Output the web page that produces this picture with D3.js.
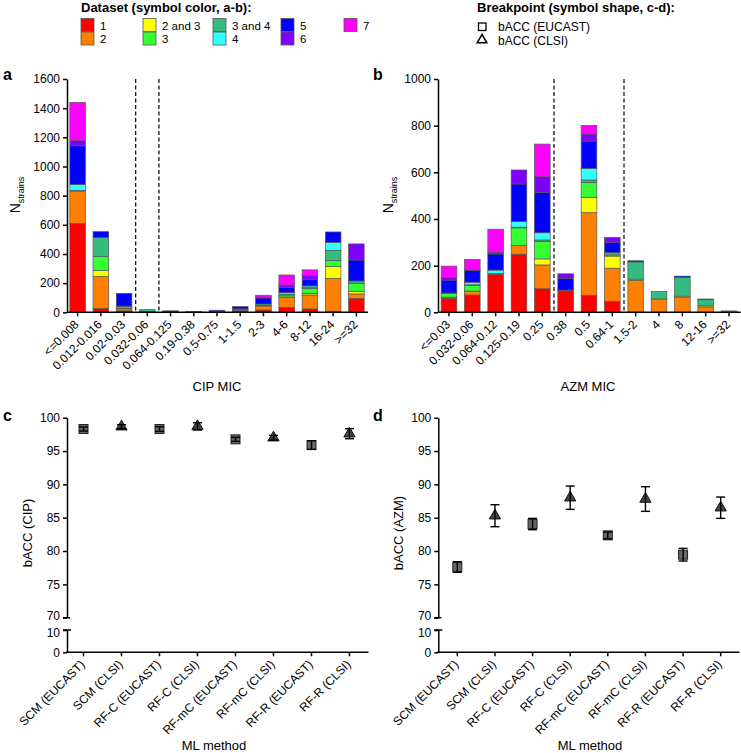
<!DOCTYPE html>
<html><head><meta charset="utf-8">
<script src="https://cdn.jsdelivr.net/npm/d3@7/dist/d3.min.js"></script>
<style>
body{margin:0;background:#fff;}
svg{font-family:"Liberation Sans",Arial,Helvetica,sans-serif;}
.axis path,.axis line{stroke:#000;stroke-width:1.5;}
.axis text{font-size:12px;fill:#000;}
</style></head><body>
<svg id="c" width="741" height="753"></svg>
<script>
// ---------- DATA ----------
const datasets = ["1","2","2 and 3","3","3 and 4","4","5","6","7"];
const cipMIC = ["<=0.008","0.012-0.016","0.02-0.03","0.032-0.06","0.064-0.125","0.19-0.38","0.5-0.75","1-1.5","2-3","4-6","8-12","16-24",">=32"];
// rows: MIC category; columns: datasets in order above
const cipCounts = [
  [610,222,0,0,3,42,265,35,263],
  [27,218,41,96,132,0,39,0,0],
  [10,14,4,10,5,0,87,0,0],
  [2,0,0,3,13,0,0,0,0],
  [3,2,0,0,0,0,5,0,0],
  [1,1,0,0,0,0,2,0,0],
  [2,2,0,0,0,0,10,0,0],
  [12,8,0,0,3,0,16,0,0],
  [16,27,0,5,9,0,41,5,14],
  [34,69,0,10,12,10,34,18,69],
  [23,96,11,32,10,9,44,27,39],
  [5,228,80,41,71,55,71,0,0],
  [94,32,16,57,16,0,144,110,0]
];
const azmMIC = ["<=0.03","0.032-0.06","0.064-0.12","0.125-0.19","0.25","0.38","0.5","0.64-1","1.5-2","4","8","12-16",">=32"];
const azmCounts = [
  [60,5,0,15,3,0,55,10,50],
  [74,17,0,25,2,11,50,3,45],
  [163,3,0,0,0,15,69,7,99],
  [249,37,0,76,3,25,160,60,0],
  [101,102,26,74,7,31,173,67,140],
  [93,2,0,0,0,0,50,20,0],
  [73,354,66,64,10,50,117,30,37],
  [47,142,52,5,10,0,44,21,0],
  [0,137,5,0,74,0,5,0,0],
  [0,57,0,0,32,0,0,0,0],
  [0,63,6,0,80,0,6,0,0],
  [0,23,5,0,27,0,2,0,0],
  [0,0,0,0,6,0,0,0,0]
];
const cipYTicks = [0,200,400,600,800,1000,1200,1400,1600];
const azmYTicks = [0,200,400,600,800,1000];
const methods = ["SCM (EUCAST)","SCM (CLSI)","RF-C (EUCAST)","RF-C (CLSI)","RF-mC (EUCAST)","RF-mC (CLSI)","RF-R (EUCAST)","RF-R (CLSI)"];
const breakpoints = ["EUCAST","CLSI","EUCAST","CLSI","EUCAST","CLSI","EUCAST","CLSI"];
const cipBacc = [98.3,98.65,98.3,98.7,96.75,97.0,95.9,97.6];
const cipErr  = [0.3,0.3,0.35,0.55,0.3,0.35,0.65,0.75];
const azmBacc = [77.6,85.3,84.05,88.0,82.35,87.8,79.45,86.5];
const azmErr  = [0.8,1.65,0.85,1.75,0.5,1.85,0.95,1.6];
const baccUpperTicks = [70,75,80,85,90,95,100];
const baccLowerTicks = [0,10];

// ---------- STYLE ----------
const palette = ["#ff0000","#ff8000","#ffff00","#33ff33","#33bb80","#33ffff","#0000ff","#8000ff","#ff00ff"];

const svg = d3.select("#c");

// ---------- LEGENDS ----------
svg.append("text").attr("x",81).attr("y",12).attr("font-size",13).attr("font-weight","bold").text("Dataset (symbol color, a-b):");
const legCols = [[0,1],[2,3],[4,5],[6,7],[8]];
const legX = [81,143,213,281,344];
legCols.forEach((col,ci)=>{
  col.forEach((di,ri)=>{
    const y = 18.5 + ri*13.5;
    svg.append("rect").attr("x",legX[ci]).attr("y",y).attr("width",13).attr("height",13)
      .attr("fill",palette[di]).attr("stroke","#555").attr("stroke-width",0.8);
    svg.append("text").attr("x",legX[ci]+19).attr("y",y+11).attr("font-size",11.5).text(datasets[di]);
  });
});
svg.append("text").attr("x",477).attr("y",12).attr("font-size",13).attr("font-weight","bold").text("Breakpoint (symbol shape, c-d):");
svg.append("rect").attr("x",478.5).attr("y",23).attr("width",7.5).attr("height",7.5).attr("fill","none").attr("stroke","#000").attr("stroke-width",1.3);
svg.append("text").attr("x",498).attr("y",31).attr("font-size",12).text("bACC (EUCAST)");
svg.append("path").attr("d",d3.symbol(d3.symbolTriangle,40)()).attr("transform","translate(482,40)").attr("fill","none").attr("stroke","#000").attr("stroke-width",1.5);
svg.append("text").attr("x",498).attr("y",45).attr("font-size",12).text("bACC (CLSI)");

function rotateLabels(sel, size){
  sel.selectAll(".tick text").attr("text-anchor","end").attr("font-size",size)
    .attr("x",0).attr("y",0).attr("dx",0).attr("dy","0.35em")
    .attr("transform","translate(-1,10) rotate(-45)");
}

// ---------- STACKED BAR PANELS ----------
function barPanel(opt){
  const {cats, counts, ymax, yticks, x0, x1, axisX, yTop, yBot, dashes, xLabel, xLabelX, yLabelX, letter, letterX} = opt;
  const g = svg.append("g");
  const x = d3.scaleBand().domain(cats).range([x0,x1]).paddingInner(0.33).paddingOuter(0.165);
  const y = d3.scaleLinear().domain([0,ymax]).range([yBot,yTop]);
  const stackData = cats.map((c,i)=>{const o={cat:c}; datasets.forEach((d,j)=>o[d]=counts[i][j]); return o;});
  const series = d3.stack().keys(datasets)(stackData);
  series.forEach((s,si)=>{
    g.append("g").selectAll("rect").data(s.filter(d=>d[1]-d[0]>0)).join("rect")
      .attr("x",d=>x(d.data.cat)).attr("width",x.bandwidth())
      .attr("y",d=>y(d[1])).attr("height",d=>y(d[0])-y(d[1]))
      .attr("fill",palette[si]).attr("stroke","#555").attr("stroke-width",0.7);
  });
  dashes.forEach(k=>{
    const xv = (x(cats[k-1])+x.bandwidth() + x(cats[k]))/2;
    g.append("line").attr("x1",xv).attr("x2",xv).attr("y1",yTop).attr("y2",yBot)
      .attr("stroke","#000").attr("stroke-width",1.2).attr("stroke-dasharray","4,2.5");
  });
  const ya = g.append("g").attr("class","axis").attr("transform",`translate(${axisX},0)`)
    .call(d3.axisLeft(y).tickValues(yticks).tickSize(4).tickSizeOuter(0).tickFormat(d3.format("d")));
  ya.selectAll("text").attr("font-size",12.5);
  const xa = g.append("g").attr("class","axis").attr("transform",`translate(0,${yBot})`)
    .call(d3.axisBottom(x).tickSize(4).tickSizeOuter(0));
  xa.select(".domain").attr("d",`M${axisX},0H${x1}`);
  rotateLabels(xa, 12.5);
  g.append("text").attr("x",xLabelX).attr("y",391).attr("text-anchor","middle").attr("font-size",13).text(xLabel);
  const yl = g.append("text").attr("transform",`translate(${yLabelX},195) rotate(-90)`).attr("text-anchor","middle").attr("font-size",14);
  yl.append("tspan").text("N");
  yl.append("tspan").attr("font-size",9).attr("dy",4).text("strains");
  g.append("text").attr("x",letterX).attr("y",80).attr("font-size",16).attr("font-weight","bold").text(letter);
}

barPanel({cats:cipMIC, counts:cipCounts, ymax:1600, yticks:cipYTicks, x0:66, x1:368, axisX:67, yTop:79, yBot:312.3,
  dashes:[3,4], xLabel:"CIP MIC", xLabelX:217, yLabelX:20, letter:"a", letterX:3});
barPanel({cats:azmMIC, counts:azmCounts, ymax:1000, yticks:azmYTicks, x0:437.3, x1:740.7, axisX:438, yTop:79, yBot:312.3,
  dashes:[5,8], xLabel:"AZM MIC", xLabelX:588, yLabelX:393, letter:"b", letterX:373});

// ---------- bACC PANELS ----------
function baccPanel(opt){
  const {means, errs, x0, x1, axisX, yLabel, yLabelX, xLabelX, letter, letterX} = opt;
  const g = svg.append("g");
  const x = d3.scaleBand().domain(methods).range([x0,x1]);
  const yU = d3.scaleLinear().domain([70,100]).range([617.7,417.7]);
  const yL = d3.scaleLinear().domain([0,10]).range([652.3,630]);
  const ua = g.append("g").attr("class","axis").attr("transform",`translate(${axisX},0)`)
    .call(d3.axisLeft(yU).tickValues(baccUpperTicks).tickSize(4).tickSizeOuter(0));
  ua.selectAll("text").attr("font-size",12.5);
  ua.selectAll(".tick").filter(d=>d===70).select("text").attr("dy","0.15em");
  const la = g.append("g").attr("class","axis").attr("transform",`translate(${axisX},0)`)
    .call(d3.axisLeft(yL).tickValues(baccLowerTicks).tickSize(4).tickSizeOuter(0));
  la.selectAll("text").attr("font-size",12.5);
  la.selectAll(".tick").filter(d=>d===10).select("text").attr("dy","0.55em");
  g.append("line").attr("x1",axisX-4).attr("x2",axisX+3).attr("y1",yU(70)).attr("y2",yU(70)).attr("stroke","#000").attr("stroke-width",1.5);
  g.append("line").attr("x1",axisX-4).attr("x2",axisX+4).attr("y1",yL(10)).attr("y2",yL(10)).attr("stroke","#000").attr("stroke-width",1.5);
  const xa = g.append("g").attr("class","axis").attr("transform",`translate(0,${yL(0)})`)
    .call(d3.axisBottom(x).tickSize(4).tickSizeOuter(0));
  xa.select(".domain").attr("d",`M${axisX-1},0H${x1}`);
  rotateLabels(xa, 13);
  const cx = i=>x(methods[i])+x.bandwidth()/2;
  methods.forEach((m,i)=>{
    const px = cx(i), py = yU(means[i]);
    if(breakpoints[i]==="EUCAST"){
      g.append("rect").attr("x",px-4.5).attr("y",py-4.5).attr("width",9).attr("height",9)
        .attr("fill","#666").attr("stroke","#222").attr("stroke-width",1);
    } else {
      g.append("path").attr("d",d3.symbol(d3.symbolTriangle,55)()).attr("transform",`translate(${px},${py})`)
        .attr("fill","#444").attr("stroke","#111").attr("stroke-width",1);
    }
    const t = yU(means[i]+errs[i]), b = yU(means[i]-errs[i]);
    g.append("line").attr("x1",px).attr("x2",px).attr("y1",t).attr("y2",b).attr("stroke","#000").attr("stroke-width",1.4);
    [t,b].forEach(yy=>g.append("line").attr("x1",px-4.5).attr("x2",px+4.5).attr("y1",yy).attr("y2",yy).attr("stroke","#000").attr("stroke-width",1.4));
  });
  g.append("text").attr("transform",`translate(${yLabelX},533) rotate(-90)`).attr("text-anchor","middle").attr("font-size",13).text(yLabel);
  g.append("text").attr("x",xLabelX).attr("y",750).attr("text-anchor","middle").attr("font-size",13).text("ML method");
  g.append("text").attr("x",letterX).attr("y",421).attr("font-size",16).attr("font-weight","bold").text(letter);
}
baccPanel({means:cipBacc, errs:cipErr, x0:64.5, x1:368.5, axisX:67, yLabel:"bACC (CIP)", yLabelX:32, xLabelX:214, letter:"c", letterX:3});
baccPanel({means:azmBacc, errs:azmErr, x0:438.5, x1:739.5, axisX:438.3, yLabel:"bACC (AZM)", yLabelX:403, xLabelX:590, letter:"d", letterX:373});
</script></body></html>
